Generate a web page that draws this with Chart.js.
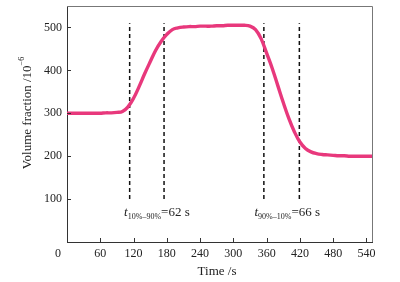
<!DOCTYPE html>
<html>
<head>
<meta charset="utf-8">
<script src="https://cdn.jsdelivr.net/npm/chart.js@4.4.0/dist/chart.umd.min.js"></script>
<style>
  html, body { margin: 0; padding: 0; background: #fff; }
  #wrap { width: 400px; height: 282px; }
</style>
</head>
<body>
<div id="wrap"><canvas id="c"></canvas></div>
<script>
  // time axis (s) and measured volume fraction (10^-6)
  const times = [
    0, 10, 20, 30, 40, 50, 60, 70, 80, 90,
    100, 110, 120, 130, 140, 150, 160, 170, 180, 190,
    200, 210, 220, 230, 240, 250, 260, 270, 280, 290,
    300, 310, 320, 330, 340, 350, 360, 370, 380, 390,
    400, 410, 420, 430, 440, 450, 460, 470, 480, 490,
    500, 510, 520, 530, 540, 550
  ];
  const fraction = [
    300, 300, 300, 300, 300, 300, 300, 301, 301, 302,
    304, 315, 335, 362, 392, 420, 447, 468, 484, 495,
    499, 501, 502, 502, 503, 503, 503, 504, 504, 505,
    505, 505, 505, 503, 495, 474, 440, 405, 365, 325,
    288, 257, 233, 218, 210, 206, 204, 203, 202, 201,
    201, 200, 200, 200, 200, 200
  ];
  // response-time marker lines
  const markerTimes = [113, 175, 355, 419];
  const markerRange = [100, 510];
  const xTicks = [60, 120, 180, 240, 300, 360, 420, 480, 540];
  const yTicks = [100, 200, 300, 400, 500];

  const serif = '"Liberation Serif", "DejaVu Serif", serif';
  const inkColor = "#222";

  const markerSets = markerTimes.map((t) => ({
    data: markerRange.map((v) => ({ x: t, y: v })),
    borderColor: "#111",
    borderWidth: 1.5,
    borderDash: [4, 3],
    pointRadius: 0,
    fill: false,
  }));

  function drawLabel(ctx, x, y, sub, rest) {
    ctx.textBaseline = "alphabetic";
    ctx.textAlign = "left";
    ctx.font = "italic 13px " + serif;
    ctx.fillText("t", x, y);
    let w = ctx.measureText("t").width;
    ctx.font = "8px " + serif;
    ctx.fillText(sub, x + w, y + 3);
    w += ctx.measureText(sub).width;
    ctx.font = "13px " + serif;
    ctx.fillText(rest, x + w, y);
  }

  const decor = {
    id: "decor",
    afterDraw(chart) {
      const { ctx, chartArea: a, scales } = chart;
      const xs = scales.x, ys = scales.y;
      ctx.save();
      // top and right frame
      ctx.strokeStyle = "#777";
      ctx.lineWidth = 1;
      ctx.beginPath();
      ctx.moveTo(a.left, a.top + 0.5);
      ctx.lineTo(a.right + 0.5, a.top + 0.5);
      ctx.lineTo(a.right + 0.5, a.bottom);
      ctx.stroke();
      // inward ticks
      ctx.strokeStyle = "#333";
      ctx.beginPath();
      xTicks.forEach((t) => {
        const px = Math.round(xs.getPixelForValue(t)) + 0.5;
        ctx.moveTo(px, a.bottom);
        ctx.lineTo(px, a.bottom - 4);
      });
      yTicks.forEach((v) => {
        const py = Math.round(ys.getPixelForValue(v)) + 0.5;
        ctx.moveTo(a.left, py);
        ctx.lineTo(a.left + 4, py);
      });
      ctx.stroke();
      ctx.fillStyle = inkColor;
      // origin label
      ctx.font = "12px " + serif;
      ctx.textAlign = "center";
      ctx.textBaseline = "middle";
      ctx.fillText("0", 58, 254);
      // axis titles
      ctx.font = "13px " + serif;
      ctx.fillText("Time /s", 217, 272);
      ctx.save();
      ctx.translate(28, 113);
      ctx.rotate(-Math.PI / 2);
      ctx.textAlign = "left";
      const main = "Volume fraction /10";
      const mw = ctx.measureText(main).width;
      ctx.font = "8px " + serif;
      const sw = ctx.measureText("\u22126").width;
      ctx.font = "13px " + serif;
      const x0 = -(mw + sw) / 2;
      ctx.fillText(main, x0, 0);
      ctx.font = "8px " + serif;
      ctx.fillText("\u22126", x0 + mw, -6);
      ctx.restore();
      // response-time labels
      drawLabel(ctx, xs.getPixelForValue(103), ys.getPixelForValue(60), "10%\u201390%", "=62 s");
      drawLabel(ctx, xs.getPixelForValue(338), ys.getPixelForValue(60), "90%\u201310%", "=66 s");
      ctx.restore();
    },
  };

  new Chart(document.getElementById("c").getContext("2d"), {
    type: "line",
    data: {
      datasets: [
        {
          data: times.map((t, i) => ({ x: t, y: fraction[i] })),
          borderColor: "#e8387c",
          borderWidth: 3.4,
          pointRadius: 0,
          tension: 0.4,
          fill: false,
        },
        ...markerSets,
      ],
    },
    options: {
      responsive: true,
      maintainAspectRatio: false,
      animation: false,
      layout: { padding: { top: 6, right: 28, left: 0, bottom: 0 } },
      plugins: { legend: { display: false }, tooltip: { enabled: false } },
      scales: {
        x: {
          type: "linear",
          min: 0,
          max: 550,
          afterFit: (s) => { s.height = 40; s.paddingLeft = 0; s.paddingRight = 0; },
          afterBuildTicks: (s) => { s.ticks = xTicks.map((v) => ({ value: v })); },
          ticks: { color: inkColor, font: { family: serif, size: 12 }, padding: 5, maxRotation: 0 },
          grid: { display: false, drawTicks: false },
          border: { display: true, color: "#333", width: 1 },
        },
        y: {
          min: 0,
          max: 550,
          afterFit: (s) => { s.width = 67; s.paddingTop = 0; s.paddingBottom = 0; },
          afterBuildTicks: (s) => { s.ticks = yTicks.map((v) => ({ value: v })); },
          ticks: { color: inkColor, font: { family: serif, size: 12 }, padding: 5 },
          grid: { display: false, drawTicks: false },
          border: { display: true, color: "#333", width: 1 },
        },
      },
    },
    plugins: [decor],
  });
</script>
</body>
</html>
